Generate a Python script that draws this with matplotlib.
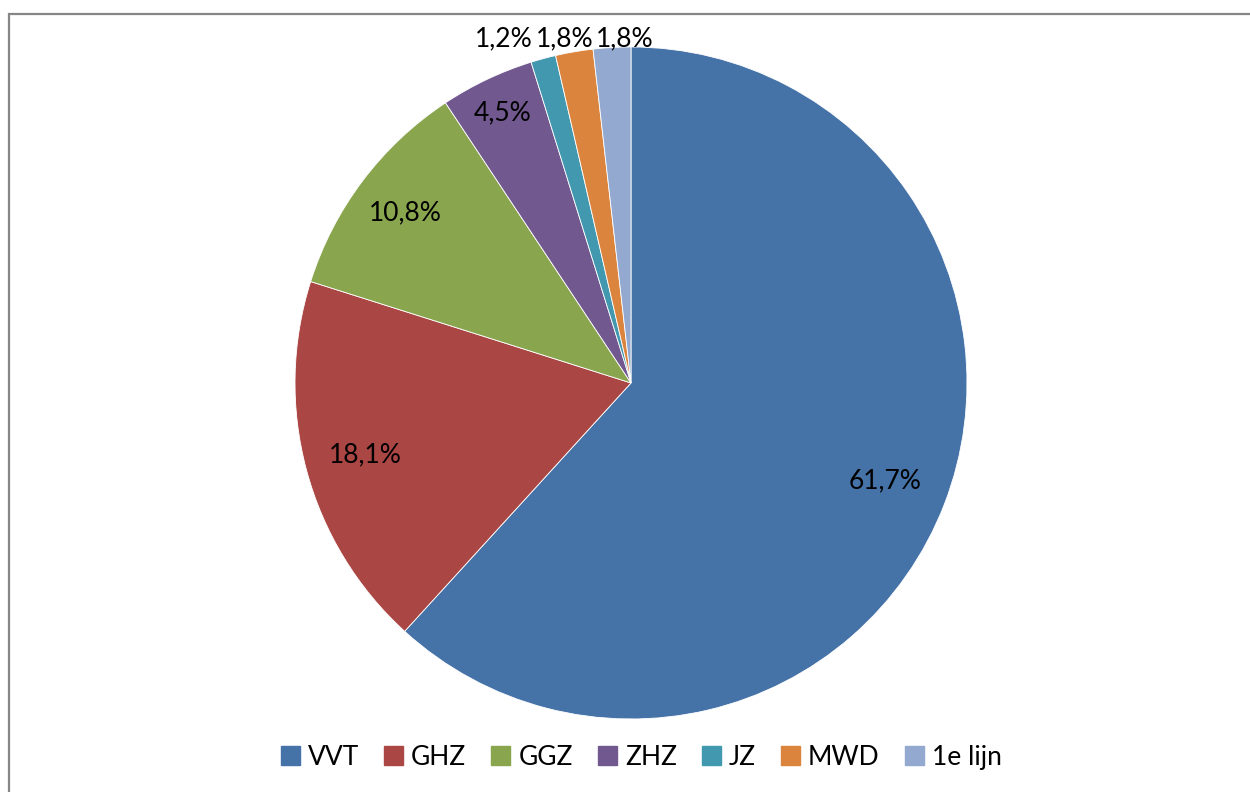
import numpy as np
import matplotlib.pyplot as plt
from matplotlib.patches import Rectangle

labels = ['VVT', 'GHZ', 'GGZ', 'ZHZ', 'JZ', 'MWD', '1e lijn']
values = [61.7, 18.1, 10.8, 4.5, 1.2, 1.8, 1.8]
pct_text = ['61,7%', '18,1%', '10,8%', '4,5%', '1,2%', '1,8%', '1,8%']
colors = ['#4572A7', '#AA4643', '#89A54E', '#71588F', '#4198AF', '#DB843D', '#93A9CF']

plt.rcParams['font.family'] = ['Lato', 'DejaVu Sans']

fig = plt.figure(figsize=(12.5, 7.92), dpi=100)
ax = fig.add_axes([0.236, 0.0922, 0.5376, 0.8485])

wedges, _ = ax.pie(values, colors=colors, startangle=90, counterclock=False,
                   radius=1.0, wedgeprops=dict(edgecolor='white', linewidth=0.6))
ax.set_xlim(-1, 1)
ax.set_ylim(-1, 1)
ax.set_aspect('equal')
ax.axis('off')

# label placement: big slices inside, small ones stacked above the pie
dists = [0.81, 0.82, 0.84, 0.89]
for i, w in enumerate(wedges):
    if i < 4:
        ang = np.deg2rad((w.theta1 + w.theta2) / 2)
        x, y = dists[i] * np.cos(ang), dists[i] * np.sin(ang)
        ax.text(x, y, pct_text[i], ha='center', va='center', fontsize=19)
top_x = [-0.38, -0.198, -0.018]
for j, i in enumerate(range(4, 7)):
    ax.text(top_x[j], 1.025, pct_text[i], ha='center', va='center', fontsize=19)

handles = [Rectangle((0, 0), 1, 1, color=c) for c in colors]
fig.legend(handles, labels, loc='center', bbox_to_anchor=(0.513, 0.044), ncol=7,
           frameon=False, fontsize=19, handlelength=0.72, handleheight=0.72,
           handletextpad=0.3, columnspacing=0.95)

fig.patches.append(Rectangle((8.5 / 1250, -0.05), 1.2, 1.05 - 13.5 / 792,
                             transform=fig.transFigure, fill=False,
                             edgecolor='#868686', linewidth=1.6))

fig.savefig('out.png', dpi=100)
